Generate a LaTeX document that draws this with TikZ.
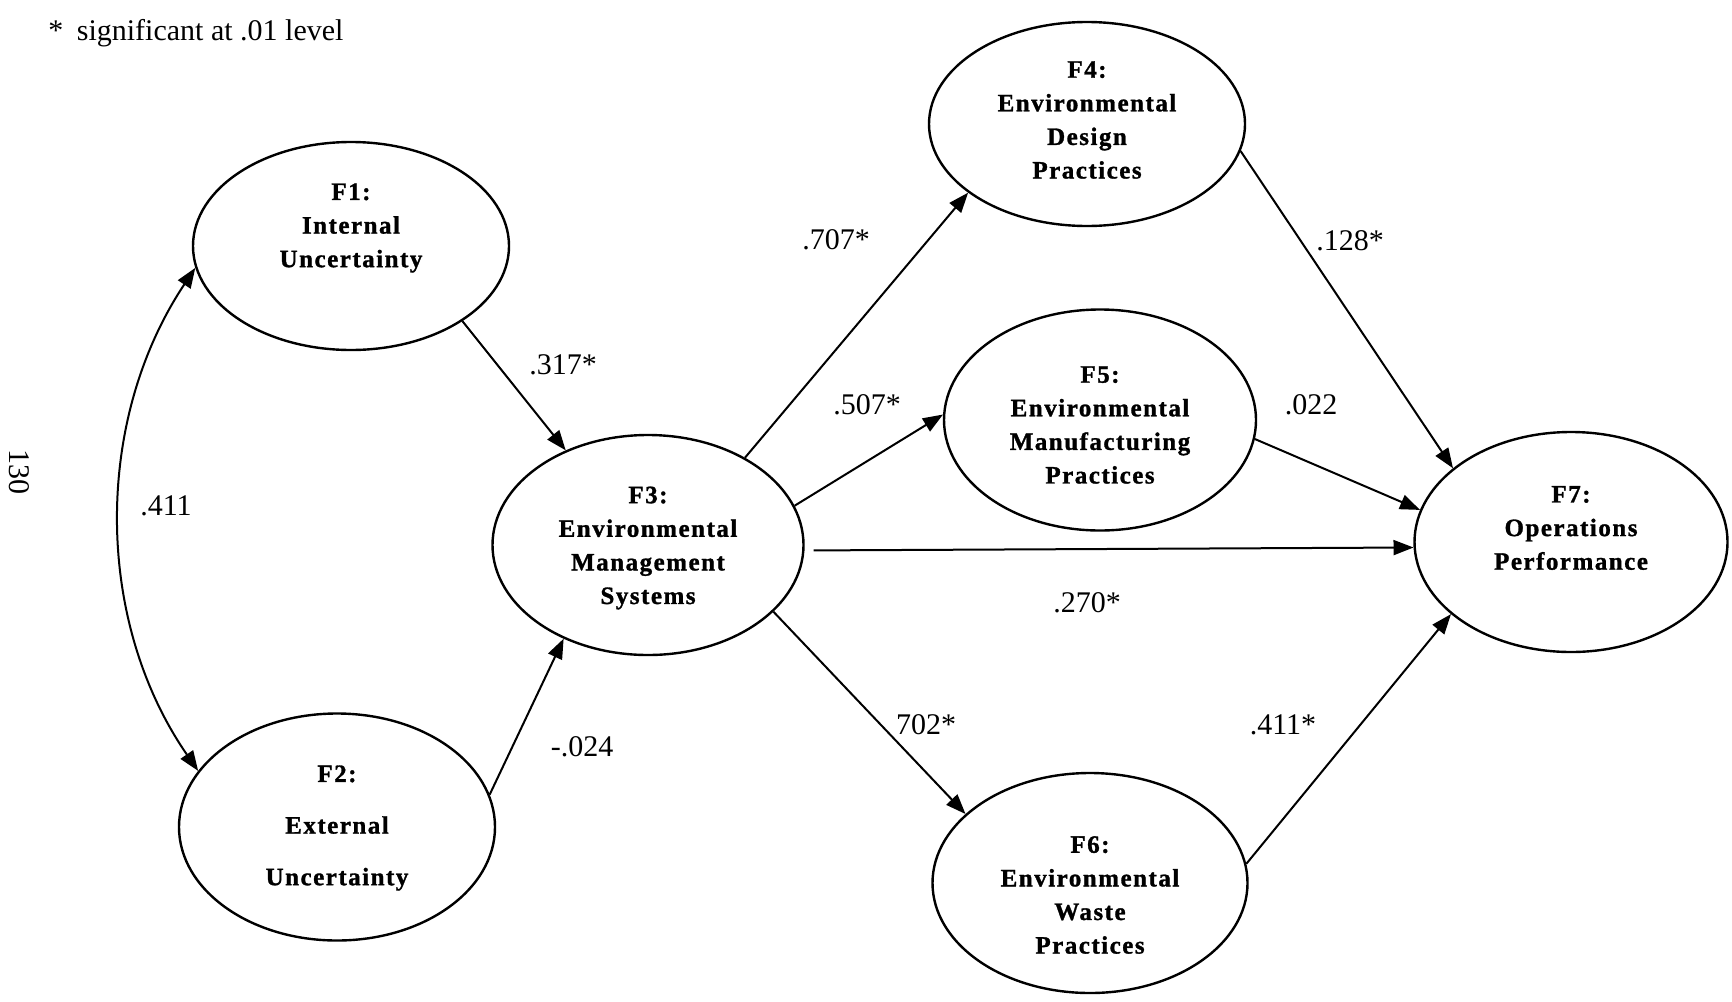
\documentclass[tikz,border=0pt]{standalone}
\usepackage{fontspec}
\setmainfont{Liberation Serif}
\newfontfamily\factorfont[LetterSpace=6, BoldFeatures={FakeBold=1.2}]{Liberation Serif}
\usetikzlibrary{shapes.geometric,arrows.meta}

\tikzset{
  factor/.style={ellipse, draw, line width=1.2pt, inner sep=0pt, fill=white},
  ftext/.style={align=center, inner sep=0pt,
    font=\factorfont\bfseries\fontsize{12.5}{16.8}\selectfont},
  wide/.style={font=\factorfont\bfseries\fontsize{12.5}{25.8}\selectfont},
  link/.style={line width=1pt, -{Triangle[length=10pt,width=7.5pt]}},
  both/.style={line width=1pt, {Triangle[length=10pt,width=7.5pt]}-{Triangle[length=10pt,width=7.5pt]}},
  coef/.style={inner sep=1pt, font=\fontsize{15}{18}\selectfont},
}

\begin{document}
\begin{tikzpicture}[x=0.5pt, y=-0.5pt]
\useasboundingbox (0,0) rectangle (1732,1001);

% legend and page number
\node[coef, anchor=base west] (legend) at (46,40) {*\hskip 0.45em significant at .01 level};
\node[coef, rotate=-90] (page) at (19,472) {130};

% latent factors
\node[factor, minimum width=158pt, minimum height=104pt] (F1) at (351,246) {};
\node[factor, minimum width=158pt, minimum height=113.5pt] (F2) at (337,827) {};
\node[factor, minimum width=155.5pt, minimum height=110pt] (F3) at (648,545) {};
\node[factor, minimum width=158pt, minimum height=102pt] (F4) at (1087,124) {};
\node[factor, minimum width=156pt, minimum height=110.5pt] (F5) at (1100,420) {};
\node[factor, minimum width=157.5pt, minimum height=110pt] (F6) at (1090,883) {};
\node[factor, minimum width=156.5pt, minimum height=110pt] (F7) at (1571,542) {};

% factor captions
\node[ftext] (T1) at (351,228) {F1:\\Internal\\Uncertainty};
\node[ftext, wide] (T2) at (337,828) {F2:\\External\\Uncertainty};
\node[ftext] (T3) at (648,548) {F3:\\Environmental\\Management\\Systems};
\node[ftext] (T4) at (1087,120) {F4:\\Environmental\\Design\\Practices};
\node[ftext] (T5) at (1100,425) {F5:\\Environmental\\Manufacturing\\Practices};
\node[ftext] (T6) at (1090,895) {F6:\\Environmental\\Waste\\Practices};
\node[ftext] (T7) at (1571,528) {F7:\\Operations\\Performance};

% structural paths
\draw[link] (F1.-34.2) -- (F3.131.7);
\draw[link] (F2.12.5) -- (F3.228);
\draw[link] (F3.42.3) -- (F4.210);
\draw[link] (F3.15.9) -- (F5.178);
\draw[link, shorten <=4.5pt] (F3.-2.8) -- (F7.182.2);
\draw[link] (F3.-28.4) -- (F6.151);
\draw[link] (F4.-10) -- (F7.148.6);
\draw[link] (F5.-7.3) -- (F7.168.4);
\draw[link] (F6.7.6) -- (F7.211.7);
% correlation between the exogenous factors
\draw[both] (F1.188) .. controls (94,420) and (94,620) .. (F2.158.7);

% path coefficients
\node[coef] (c13) at (563,365) {.317*};
\node[coef] (c23) at (582,747) {-.024};
\node[coef] (c12) at (166,506) {.411};
\node[coef] (c34) at (836,240) {.707*};
\node[coef] (c35) at (867,405) {.507*};
\node[coef] (c37) at (1087,603) {.270*};
\node[coef] (c36) at (926,725) {702*};
\node[coef] (c47) at (1350,241) {.128*};
\node[coef] (c57) at (1311,405) {.022};
\node[coef] (c67) at (1283,725) {.411*};
\end{tikzpicture}
\end{document}
